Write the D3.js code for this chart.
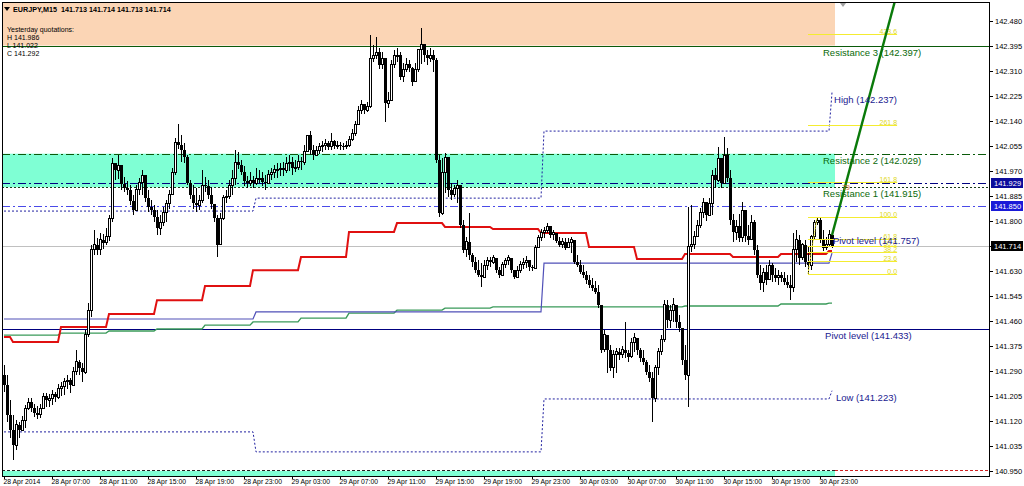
<!DOCTYPE html>
<html><head><meta charset="utf-8">
<script src="https://cdn.jsdelivr.net/npm/d3@7"></script>
<style>
body{margin:0;background:#fff;}
svg{display:block;font-family:"Liberation Sans",Arial,sans-serif;}
</style>
</head><body>
<svg id="c" width="1024" height="486"></svg>
<script>
// ---------- DATA ----------
const firstOpen = 141.276;
const closes = [
141.242,141.141,141.089,141.038,141.107,141.089,141.121,141.164,141.184,141.164,
141.148,141.141,141.164,141.204,141.191,141.198,141.211,141.201,141.232,141.238,
141.256,141.259,141.242,141.290,141.321,141.301,141.286,141.413,141.497,141.702,
141.719,141.702,141.736,141.726,141.749,141.810,141.997,141.973,141.990,141.925,
141.912,141.906,141.868,141.837,141.906,141.932,141.956,141.879,141.847,141.837,
141.813,141.776,141.796,141.830,141.861,141.889,141.966,142.068,142.058,142.041,
142.017,141.929,141.889,141.861,141.854,141.871,141.922,141.918,141.889,141.857,
141.810,141.719,141.810,141.879,141.885,141.922,141.946,142.000,141.990,141.966,
141.936,141.929,141.939,141.929,141.946,141.946,141.932,141.929,141.959,141.966,
141.976,141.976,141.980,141.973,141.997,142.000,141.980,141.983,142.004,142.000,
142.038,142.092,142.041,142.024,142.041,142.055,142.058,142.065,142.052,142.072,
142.055,142.058,142.055,142.052,142.058,142.078,142.099,142.129,142.177,142.197,
142.177,142.190,142.354,142.364,142.374,142.331,142.354,142.201,142.211,142.334,
142.364,142.364,142.290,142.314,142.334,142.321,142.273,142.317,142.384,142.401,
142.364,142.354,142.364,142.348,142.007,141.827,141.966,142.017,141.906,141.889,
141.912,141.922,141.786,141.702,141.729,141.685,141.660,141.633,141.616,141.609,
141.650,141.667,141.660,141.675,141.633,141.616,141.653,141.667,141.675,141.633,
141.609,141.633,141.653,141.660,141.667,141.643,141.640,141.709,141.743,141.762,
141.769,141.782,141.753,141.760,141.733,141.719,141.729,141.709,141.726,141.736,
141.660,141.650,141.626,141.616,141.600,141.583,141.573,141.559,141.515,141.362,
141.413,141.362,141.301,141.345,141.355,141.345,141.362,141.352,141.338,141.386,
141.403,141.362,141.335,141.321,141.286,141.266,141.198,141.301,141.355,141.396,
141.515,141.463,141.497,141.515,141.457,141.437,141.328,141.276,141.712,141.719,
141.749,141.786,141.830,141.864,141.820,141.861,141.956,141.939,142.014,141.929,
142.024,141.946,141.803,141.762,141.782,141.743,141.837,141.749,141.736,141.796,
141.702,141.616,141.590,141.626,141.600,141.650,141.616,141.607,141.616,141.607,
141.593,141.583,141.573,141.702,141.736,141.675,141.719,141.660,141.650,141.746,
141.796,141.803,141.736,141.709,141.719,141.753,141.714];
const highs = [
141.311,141.276,141.191,141.141,141.124,141.117,141.137,141.174,141.198,141.198,
141.177,141.170,141.177,141.215,141.215,141.211,141.225,141.218,141.245,141.252,
141.266,141.276,141.266,141.304,141.362,141.328,141.318,141.430,141.522,141.719,
141.769,141.743,141.759,141.756,141.776,141.820,142.014,141.997,142.024,141.973,
141.949,141.936,141.922,141.889,141.922,141.946,141.973,141.939,141.906,141.871,
141.854,141.837,141.820,141.847,141.871,141.906,141.980,142.082,142.129,142.092,
142.065,142.024,141.939,141.922,141.912,141.889,141.973,141.949,141.939,141.915,
141.854,141.820,141.827,141.889,141.906,141.939,141.973,142.041,142.034,142.007,
141.986,141.952,141.966,141.952,141.980,141.973,141.966,141.956,141.973,141.980,
141.990,141.997,141.997,142.000,142.017,142.024,142.017,142.007,142.024,142.017,
142.058,142.082,142.106,142.058,142.055,142.065,142.072,142.078,142.072,142.099,
142.075,142.072,142.068,142.065,142.072,142.088,142.112,142.140,142.190,142.211,
142.197,142.204,142.432,142.398,142.425,142.388,142.374,142.341,142.238,142.348,
142.381,142.388,142.374,142.338,142.354,142.348,142.324,142.338,142.364,142.457,
142.398,142.381,142.388,142.381,142.354,142.024,142.014,142.031,142.017,141.929,
141.922,141.939,141.922,141.803,141.746,141.827,141.692,141.678,141.667,141.657,
141.667,141.678,141.678,141.685,141.675,141.643,141.660,141.675,141.685,141.675,
141.633,141.646,141.664,141.675,141.681,141.664,141.650,141.719,141.753,141.772,
141.779,141.793,141.776,141.769,141.753,141.746,141.743,141.743,141.743,141.746,
141.736,141.685,141.667,141.650,141.630,141.616,141.607,141.597,141.583,141.515,
141.430,141.403,141.379,141.362,141.369,141.369,141.376,141.457,141.362,141.403,
141.420,141.403,141.369,141.362,141.328,141.311,141.286,141.311,141.369,141.413,
141.532,141.532,141.515,141.539,141.515,141.480,141.413,141.379,141.847,141.854,
141.766,141.803,141.844,141.879,141.857,141.879,141.973,141.980,142.052,142.007,
142.085,142.049,141.973,141.823,141.803,141.823,141.864,141.820,141.786,141.820,
141.803,141.719,141.650,141.640,141.650,141.667,141.657,141.640,141.633,141.626,
141.626,141.616,141.616,141.760,141.769,141.753,141.726,141.736,141.712,141.753,
141.803,141.813,141.810,141.769,141.746,141.769,141.746];
const lows = [
141.218,141.117,141.062,140.987,141.021,141.062,141.089,141.096,141.158,141.151,
141.134,141.127,141.131,141.160,141.167,141.167,141.174,141.184,141.194,141.204,
141.208,141.228,141.215,141.238,141.276,141.276,141.252,141.279,141.406,141.473,
141.685,141.685,141.685,141.705,141.719,141.733,141.796,141.939,141.942,141.906,
141.899,141.889,141.854,141.820,141.840,141.889,141.889,141.864,141.830,141.820,
141.796,141.753,141.753,141.782,141.796,141.840,141.889,141.956,142.045,142.000,
141.997,141.922,141.875,141.840,141.830,141.837,141.861,141.899,141.875,141.840,
141.796,141.678,141.736,141.803,141.861,141.875,141.889,141.922,141.976,141.956,
141.918,141.912,141.918,141.912,141.922,141.929,141.918,141.906,141.925,141.939,
141.946,141.946,141.952,141.952,141.963,141.970,141.956,141.966,141.973,141.973,
141.990,142.034,142.024,142.007,142.024,142.027,142.034,142.041,142.041,142.041,
142.045,142.045,142.041,142.041,142.045,142.052,142.072,142.088,142.126,142.163,
142.163,142.170,142.184,142.341,142.351,142.317,142.317,142.136,142.184,142.214,
142.321,142.341,142.280,142.273,142.307,142.307,142.259,142.280,142.307,142.334,
142.341,142.331,142.341,142.307,141.997,141.813,141.820,141.896,141.882,141.871,
141.882,141.861,141.776,141.692,141.678,141.667,141.643,141.623,141.609,141.576,
141.607,141.633,141.643,141.653,141.623,141.607,141.613,141.640,141.650,141.623,
141.603,141.607,141.623,141.636,141.640,141.630,141.630,141.636,141.709,141.733,
141.743,141.759,141.743,141.736,141.726,141.712,141.709,141.702,141.709,141.692,
141.653,141.643,141.619,141.607,141.586,141.573,141.563,141.552,141.505,141.352,
141.355,141.283,141.290,141.266,141.283,141.328,141.335,141.335,141.321,141.335,
141.355,141.345,141.321,141.311,141.276,141.252,141.117,141.184,141.276,141.345,
141.389,141.437,141.437,141.457,141.437,141.423,141.311,141.259,141.167,141.695,
141.705,141.749,141.776,141.810,141.800,141.820,141.820,141.912,141.932,141.912,
141.956,141.932,141.786,141.729,141.736,141.729,141.729,141.729,141.719,141.736,
141.685,141.607,141.566,141.559,141.583,141.600,141.593,141.593,141.583,141.593,
141.583,141.573,141.532,141.559,141.660,141.650,141.667,141.643,141.620,141.633,
141.736,141.786,141.726,141.698,141.702,141.712,141.709];

const timeLabels = ["28 Apr 2014","28 Apr 07:00","28 Apr 11:00","28 Apr 15:00","28 Apr 19:00","28 Apr 23:00",
  "29 Apr 03:00","29 Apr 07:00","29 Apr 11:00","29 Apr 15:00","29 Apr 19:00","29 Apr 23:00",
  "30 Apr 03:00","30 Apr 07:00","30 Apr 11:00","30 Apr 15:00","30 Apr 19:00","30 Apr 23:00"];
const barsPerLabel = 16;
const priceTicks = [142.480,142.395,142.310,142.225,142.140,142.055,141.970,141.885,141.800,141.715,
  141.630,141.545,141.460,141.375,141.290,141.205,141.120,141.035,140.950];

// 4-hour stepped indicators (first block = bars before first 4h boundary)
const redSteps = [141.406,141.389,141.440,141.484,141.531,141.579,141.633,141.678,141.763,141.793,
  141.780,141.773,141.759,141.712,141.671,141.688,141.678,141.688,141.698];
const greenSteps = [141.412,141.412,141.419,141.426,141.433,141.446,141.457,141.470,141.487,141.497,
  141.504,141.508,141.508,141.508,141.508,141.511,141.511,141.518,141.521];
const stepFirstBar = 3;
// daily levels
const dayStartBars = [0,84,180,276];
const dayBlue = [141.467,141.491,141.657,141.691];
const dayHigh = [141.834,141.878,142.106,142.237];
const dayLow = [141.083,141.015,141.195,141.223];

// horizontal levels
const levelPrices = [142.397,142.029,141.929,141.915,141.850,141.714,141.433];
const supportPrice = 140.950;
const zoneLow = [142.397,141.915,140.900];
const zoneHigh = [142.600,142.029,140.950];
const zoneEndBar = 277;

const labelTexts = ["Resistance 3 (142.397)","Resistance 2 (142.029)","Resistance 1 (141.915)",
  "Pivot level (141.433)","High (142.237)","Pivot level (141.757)","Low (141.223)"];
const labelPrices = [142.397,142.029,141.915,141.433,142.237,141.757,141.223];
const labelBars = [273,273,273,273.7,276.7,276.3,277.3];

const fibLevels = [0,23.6,38.2,50,61.8,100,161.8,261.8,423.6];
const fibLow = 141.620, fibHigh = 141.813;
const fibBars = [268,271,297.7];

const trendBars = [276,286.3];
const trendPrices = [141.752,142.143];

const markedPrices = [141.929,141.850,141.714];

const header = "EURJPY,M15  141.713 141.714 141.713 141.714";
const yesterday = ["Yesterday quotations:","H 141.986","L 141.022","C 141.292"];

// ---------- CHART ----------
const W = 1024, H = 486;
const P = {l:2, t:2, r:990, b:476};
const svg = d3.select("#c");
const x = d3.scaleLinear().domain([0,276]).range([4,832]);
const y = d3.scaleLinear().domain([140.933,142.545]).range([476,2]);

svg.append("rect").attr("width",W).attr("height",H).attr("fill","#fff");
svg.append("defs").append("clipPath").attr("id","clip")
  .append("rect").attr("x",P.l).attr("y",P.t).attr("width",P.r-P.l).attr("height",P.b-P.t);
const g = svg.append("g").attr("clip-path","url(#clip)");

// zones
const zoneColors = ["#fbd5b5","#7fffd4","#7fffd4"];
zoneLow.forEach((lo,k)=>{
  g.append("rect").attr("x",P.l).attr("width",x(zoneEndBar)-P.l)
    .attr("y",y(zoneHigh[k])).attr("height",y(lo)-y(zoneHigh[k])).attr("fill",zoneColors[k]);
});

// horizontal levels
const levelStyle = [
  {c:"#0a5a0a",d:null,w:1},{c:"#0a5a0a",d:"8,3,2,3",w:1},{c:"#000080",d:"8,3,2,3",w:1},
  {c:"#1a3a1a",d:"2,2",w:1},{c:"#4a4ae8",d:"8,3,2,3",w:1.2},{c:"#c0c0c0",d:null,w:1},{c:"#000080",d:null,w:1}];
levelPrices.forEach((p,k)=>{
  const yy = Math.round(y(p))+0.5;
  g.append("line").attr("x1",P.l).attr("x2",P.r).attr("y1",yy).attr("y2",yy)
    .attr("stroke",levelStyle[k].c).attr("stroke-width",levelStyle[k].w)
    .attr("stroke-dasharray",levelStyle[k].d);
});
{
  const yy = Math.round(y(supportPrice))-0.5;
  g.append("line").attr("x1",P.l).attr("x2",x(zoneEndBar)).attr("y1",yy).attr("y2",yy)
    .attr("stroke","#222").attr("stroke-dasharray","3,2");
  g.append("line").attr("x1",x(zoneEndBar)).attr("x2",P.r).attr("y1",yy).attr("y2",yy)
    .attr("stroke","#d02020").attr("stroke-dasharray","3,2");
}

// stepped indicators
const idx = d3.range(closes.length);
const blockOf = i => Math.max(0, Math.floor((i - stepFirstBar)/16) + 1);
const dayOf = i => { let d = 0; dayStartBars.forEach((s,k)=>{ if(i>=s) d=k; }); return d; };
const lineGen = d3.line().x(d=>x(d[0])).y(d=>y(d[1]));
function series(vals, color, width, dash){
  g.append("path").attr("d", lineGen(vals)).attr("fill","none")
    .attr("stroke",color).attr("stroke-width",width).attr("stroke-dasharray",dash||null);
}
series(idx.map(i=>[i, greenSteps[blockOf(i)]]), "#3a9a5a", 1.4);
series(idx.map(i=>[i, dayBlue[dayOf(i)]]), "#5050b8", 1.2);
series(idx.map(i=>[i, redSteps[blockOf(i)]]), "#e01010", 2);
series(idx.map(i=>[i, dayHigh[dayOf(i)]]), "#2020a0", 1, "2,2");
series(idx.map(i=>[i, dayLow[dayOf(i)]]), "#2020a0", 1, "2,2");

// candles
const opens = closes.map((c,i)=> i===0 ? firstOpen : closes[i-1]);
const cg = g.append("g").attr("shape-rendering","crispEdges");
idx.forEach(i=>{
  const o = opens[i], c = closes[i];
  const hi = Math.max(highs[i], o, c), lo = Math.min(lows[i], o, c);
  const cx = Math.round(x(i)) + 0.5;
  cg.append("line").attr("x1",cx).attr("x2",cx).attr("y1",y(hi)).attr("y2",y(lo)).attr("stroke","#000");
  const top = y(Math.max(o,c)), bot = y(Math.min(o,c));
  const hgt = Math.max(1, bot-top);
  if (c >= o) {
    cg.append("rect").attr("x",cx-1).attr("width",2).attr("y",top).attr("height",hgt)
      .attr("fill","#fff").attr("stroke","#000");
  } else {
    cg.append("rect").attr("x",cx-1.5).attr("width",3).attr("y",top).attr("height",hgt).attr("fill","#000");
  }
});

// fibonacci
const fibPrice = l => fibLow + (fibHigh - fibLow)*l/100;
fibLevels.forEach(l=>{
  const yy = Math.round(y(fibPrice(l)))+0.5;
  g.append("line").attr("x1",x(fibBars[0])).attr("x2",x(fibBars[2])).attr("y1",yy).attr("y2",yy)
    .attr("stroke","#f4ec30").attr("stroke-width",1);
  g.append("text").attr("x",x(fibBars[2])).attr("y",yy-1).attr("text-anchor","end")
    .attr("font-size","7px").attr("fill","#e0d820").text(d3.format(".1f")(l));
});
g.append("line").attr("x1",x(fibBars[0])).attr("y1",y(fibLow)).attr("x2",x(fibBars[1])).attr("y2",y(fibHigh))
  .attr("stroke","#f4ec30").attr("stroke-dasharray","2,1");

// trend line (ray)
{
  const slope = (trendPrices[1]-trendPrices[0])/(trendBars[1]-trendBars[0]);
  const endBar = trendBars[0] + 40;
  g.append("line").attr("x1",x(trendBars[0])).attr("y1",y(trendPrices[0]))
    .attr("x2",x(endBar)).attr("y2",y(trendPrices[0]+slope*40))
    .attr("stroke","#0a7a0a").attr("stroke-width",2.4);
}
g.append("text").attr("x",x(279.4)).attr("y",y(141.905)).attr("font-size","7px").attr("fill","#d2691e").text("79");

// level labels
const labelColors = ["#0a6a0a","#0a6a0a","#0a6a0a","#1a1a90","#1a1a90","#1a1a90","#1a1a90"];
labelTexts.forEach((t,k)=>{
  g.append("text").attr("x",x(labelBars[k])).attr("y",y(labelPrices[k])+10)
    .attr("font-size","9.5px").attr("fill",labelColors[k]).text(t);
});

// header
svg.append("path").attr("d","M4,7 L10,7 L7,11 Z").attr("fill","#000");
svg.append("text").attr("x",13).attr("y",12).attr("font-size","7.2px").attr("font-weight","bold")
  .attr("fill","#000").attr("xml:space","preserve").text(header);
yesterday.forEach((t,k)=>{
  svg.append("text").attr("x",7).attr("y",31.5+k*8.2).attr("font-size","7px").attr("fill","#000").text(t);
});
svg.append("path").attr("d","M840,3 L846,3 L843,7 Z").attr("fill","#a0a0a0");

// frame
svg.append("rect").attr("x",P.l+0.5).attr("y",P.t+0.5).attr("width",P.r-P.l-1).attr("height",P.b-P.t)
  .attr("fill","none").attr("stroke","#000").attr("shape-rendering","crispEdges");

// right axis
priceTicks.forEach(p=>{
  const yy = Math.round(y(p))+0.5;
  svg.append("line").attr("x1",P.r).attr("x2",P.r+3).attr("y1",yy).attr("y2",yy).attr("stroke","#000");
  svg.append("text").attr("x",P.r+5).attr("y",yy+2.6).attr("font-size","7.5px").attr("fill","#000")
    .text(d3.format(".3f")(p));
});
const boxColors = ["#0c0c9c","#1a1ad8","#000"];
markedPrices.forEach((p,k)=>{
  const yy = Math.round(y(p));
  svg.append("rect").attr("x",P.r+1).attr("y",yy-5).attr("width",32).attr("height",10).attr("fill",boxColors[k]);
  svg.append("text").attr("x",P.r+4).attr("y",yy+3).attr("font-size","7.5px").attr("fill","#fff")
    .text(d3.format(".3f")(p));
});

// bottom axis
timeLabels.forEach((t,k)=>{
  const xx = Math.round(x(k*barsPerLabel))+0.5;
  svg.append("line").attr("x1",xx).attr("x2",xx).attr("y1",P.b).attr("y2",P.b+3).attr("stroke","#000");
  svg.append("text").attr("x",xx-1).attr("y",484).attr("font-size","6.8px").attr("fill","#000").text(t);
});
</script>
</body></html>
